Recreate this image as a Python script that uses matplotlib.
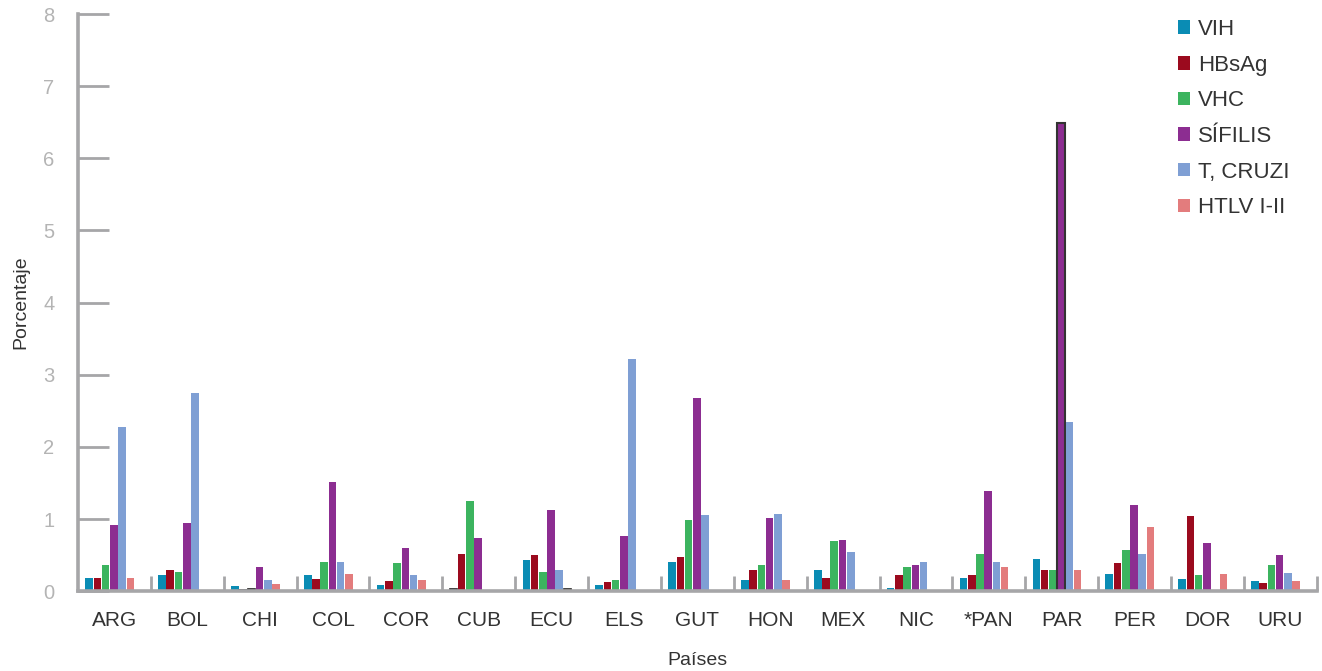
import matplotlib
matplotlib.use("Agg")
import matplotlib.pyplot as plt
import numpy as np

countries = ["ARG", "BOL", "CHI", "COL", "COR", "CUB", "ECU", "ELS", "GUT",
             "HON", "MEX", "NIC", "*PAN", "PAR", "PER", "DOR", "URU"]
series_names = ["VIH", "HBsAg", "VHC", "SÍFILIS", "T, CRUZI", "HTLV I-II"]

vih     = [0.18, 0.22, 0.07, 0.22, 0.08, 0.03, 0.43, 0.08, 0.40, 0.15, 0.29, 0.04, 0.18, 0.44, 0.24, 0.17, 0.14]
hbsag   = [0.18, 0.29, 0.02, 0.17, 0.14, 0.51, 0.50, 0.12, 0.47, 0.29, 0.18, 0.22, 0.22, 0.30, 0.39, 1.04, 0.11]
vhc     = [0.36, 0.27, 0.03, 0.41, 0.39, 1.25, 0.26, 0.15, 0.98, 0.36, 0.69, 0.33, 0.51, 0.30, 0.57, 0.22, 0.36]
sifilis = [0.92, 0.94, 0.33, 1.51, 0.60, 0.73, 1.12, 0.76, 2.68, 1.01, 0.71, 0.36, 1.39, 6.49, 1.19, 0.67, 0.50]
tcruzi  = [2.27, 2.75, 0.15, 0.40, 0.22, 0.0, 0.30, 3.22, 1.05, 1.07, 0.54, 0.40, 0.40, 2.34, 0.51, 0.0, 0.25]
htlv    = [0.18, 0.0, 0.10, 0.24, 0.15, 0.0, 0.03, 0.0, 0.0, 0.15, 0.0, 0.0, 0.33, 0.29, 0.89, 0.24, 0.14]

series = [vih, hbsag, vhc, sifilis, tcruzi, htlv]
colors = ["#0a8cb4", "#9b0a1e", "#3cb45f", "#8c2d91", "#7f9fd4", "#e37c7d"]

GRAY = "#a6a6a8"
plt.rcParams["font.family"] = ["Liberation Sans", "DejaVu Sans"]

fig = plt.figure(figsize=(13.22, 6.71), dpi=100)
ax = fig.add_axes([0.059, 0.119, 0.937, 0.860])

x = np.arange(len(countries))
bw = 0.113
offsets = -0.347 + bw * np.arange(6)
for j, (vals, c, name) in enumerate(zip(series, colors, series_names)):
    vals = np.asarray(vals)
    bars = ax.bar(x + offsets[j], vals, width=bw * 0.92, color=c, label=name, zorder=2)
    for b, v in zip(bars, vals):
        if 0 < v < 0.05 and j in (1, 2, 5) or (j == 0 and 0 < v < 0.035):
            b.set_edgecolor("#222222")
            b.set_linewidth(1.2)
# highlighted bar (PAR, SÍFILIS)
ax.patches[3 * len(countries) + countries.index("PAR")].set_edgecolor("#333333")
ax.patches[3 * len(countries) + countries.index("PAR")].set_linewidth(1.5)

ax.set_xlim(-0.5, len(countries) - 0.5)
ax.set_ylim(0, 8)
ax.set_yticks(range(0, 9))

for s in ("top", "right"):
    ax.spines[s].set_visible(False)
for s in ("left", "bottom"):
    ax.spines[s].set_color(GRAY)
    ax.spines[s].set_linewidth(2.6)

ax.tick_params(axis="y", direction="in", length=22, width=2.0, color=GRAY,
               labelsize=14.5, labelcolor="#b4b4b4", pad=17)
ax.set_xticks(x)
ax.set_xticklabels(countries)
ax.tick_params(axis="x", which="major", length=0, labelsize=15, labelcolor="#333333", pad=14)
ax.set_xticks(x + 0.5, minor=True)
ax.tick_params(axis="x", which="minor", direction="in", length=11, width=2.0, color=GRAY)

ax.set_ylabel("Porcentaje", fontsize=14, color="#333333", labelpad=10)
ax.set_xlabel("Países", fontsize=14, color="#333333", labelpad=16)

handles, labels = ax.get_legend_handles_labels()
leg = fig.legend(handles, labels, loc="upper left",
                 bbox_to_anchor=(1178 / 1322, 1 - 19 / 671), frameon=False,
                 fontsize=16, handlelength=0.55, handleheight=0.55, handletextpad=0.35,
                 labelspacing=0.66, labelcolor="#333333", borderpad=0, borderaxespad=0)

fig.savefig("out.png", dpi=100)
